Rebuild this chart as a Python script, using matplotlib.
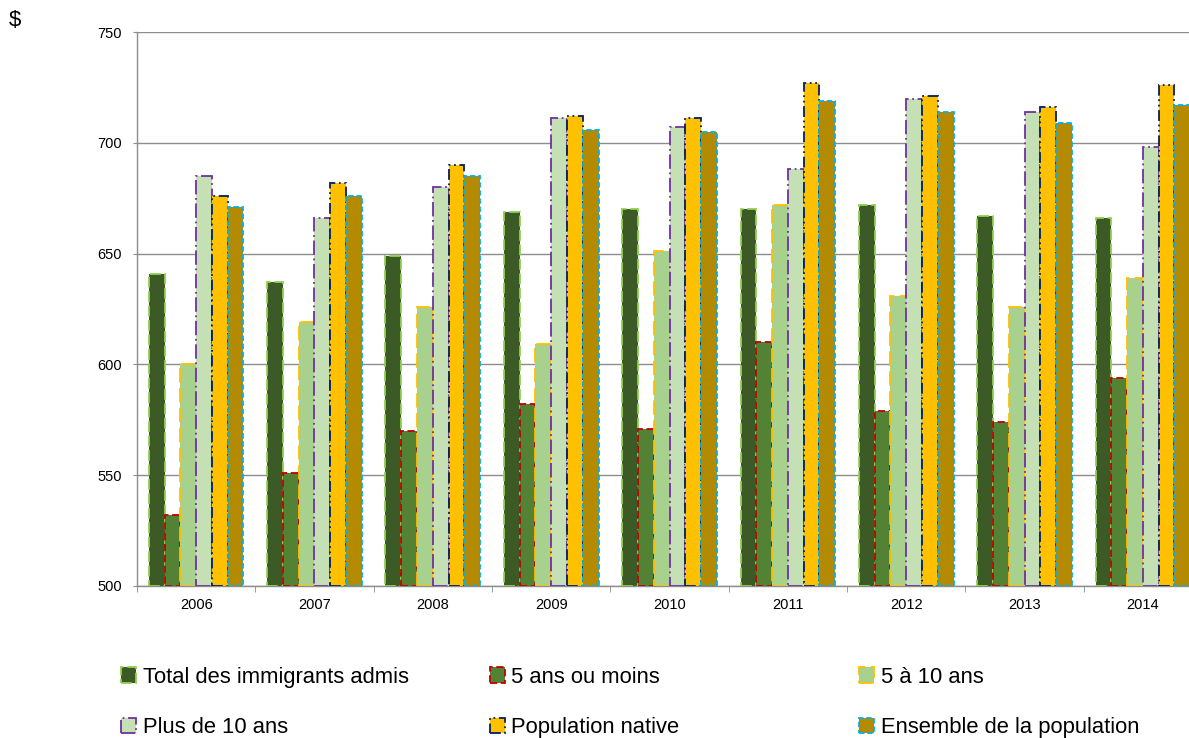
import matplotlib.pyplot as plt
import numpy as np
from matplotlib.patches import Patch

plt.rcParams["font.family"] = ["Liberation Sans", "DejaVu Sans"]

years = ["2006", "2007", "2008", "2009", "2010", "2011", "2012", "2013", "2014"]

total_admis = [641, 637, 649, 669, 670, 670, 672, 667, 666]
moins_5_ans = [532, 551, 570, 582, 571, 610, 579, 574, 594]
de_5_a_10_ans = [600, 619, 626, 609, 651, 672, 631, 626, 639]
plus_10_ans = [685, 666, 680, 711, 707, 688, 720, 714, 698]
population_native = [676, 682, 690, 712, 711, 727, 721, 716, 726]
ensemble = [671, 676, 685, 706, 705, 719, 714, 709, 717]

labels = [
    "Total des immigrants admis",
    "5 ans ou moins",
    "5 à 10 ans",
    "Plus de 10 ans",
    "Population native",
    "Ensemble de la population",
]
series = [total_admis, moins_5_ans, de_5_a_10_ans, plus_10_ans,
          population_native, ensemble]

faces = ["#3B5A25", "#548235", "#A9D18E", "#C5E0B4", "#FFC000", "#B38A00"]
edges = ["#92D050", "#C00000", "#FFC000", "#7030A0", "#002060", "#00B0F0"]
styles = [(0, (6, 2)), (0, (4, 2)), (0, (8, 3)), (0, (8, 2, 1, 2)),
          (0, (6, 2, 1, 2, 1, 2)), (0, (3, 1.5))]

fig = plt.figure(figsize=(11.89, 7.38), dpi=100)
ax = fig.add_axes([0.1152, 0.206, 0.8958, 0.7506])

x = np.arange(len(years))
width = 0.8 / 6
for i, vals in enumerate(series):
    ax.bar(x - 0.4 + width * (i + 0.5), np.array(vals) - 500, width,
           bottom=500, color=faces[i], edgecolor=edges[i], linewidth=1.3,
           linestyle=styles[i], zorder=3)

ax.set_xlim(-0.5, len(years) - 0.5)
ax.set_ylim(500, 750)
ax.set_yticks(np.arange(500, 751, 50))
ax.yaxis.grid(True, color="#8C8C8C", linewidth=1)
ax.set_axisbelow(True)

ax.set_xticks(x)
ax.set_xticklabels(years, fontsize=10.5)
ax.set_xticks(np.arange(-0.5, len(years)), minor=True)
ax.tick_params(axis="x", which="major", length=0, pad=9)
ax.tick_params(axis="x", which="minor", length=4, color="#8C8C8C")
ax.tick_params(axis="y", labelsize=10.5, length=3, color="#8C8C8C", pad=8)

for side in ["top", "right"]:
    ax.spines[side].set_visible(False)
for side in ["left", "bottom"]:
    ax.spines[side].set_color("#8C8C8C")
    ax.spines[side].set_linewidth(1)

fig.text(0.0076, 0.972, "$", fontsize=16, ha="left", va="center")

handles = [Patch(facecolor=faces[i], edgecolor=edges[i], linestyle=styles[i],
                 linewidth=1.3) for i in range(6)]

col_x = [0.1018, 0.4121, 0.7225]
for c in range(3):
    leg = fig.legend([handles[c], handles[c + 3]], [labels[c], labels[c + 3]],
                     loc="upper left", bbox_to_anchor=(col_x[c], 0.0966),
                     frameon=False, fontsize=15.8, handlelength=0.68,
                     handleheight=0.68, handletextpad=0.3, labelspacing=1.33,
                     borderaxespad=0, borderpad=0)

fig.savefig("out.png", dpi=100)
